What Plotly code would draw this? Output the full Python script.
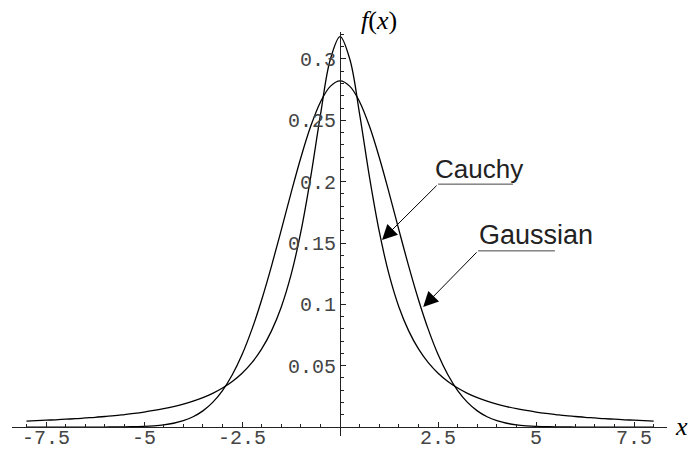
import plotly.graph_objects as go

# Sample points shared by both densities
x_vals = [-8.0, -7.75, -7.5, -7.25, -7.0, -6.75, -6.5, -6.25, -6.0, -5.75, -5.5, -5.25,
          -5.0, -4.75, -4.5, -4.25, -4.0, -3.75, -3.5, -3.25, -3.0, -2.75, -2.5, -2.25,
          -2.0, -1.75, -1.5, -1.25, -1.0, -0.75, -0.5, -0.25, 0.0, 0.25, 0.5, 0.75,
          1.0, 1.25, 1.5, 1.75, 2.0, 2.25, 2.5, 2.75, 3.0, 3.25, 3.5, 3.75,
          4.0, 4.25, 4.5, 4.75, 5.0, 5.25, 5.5, 5.75, 6.0, 6.25, 6.5, 6.75,
          7.0, 7.25, 7.5, 7.75, 8.0]

# Cauchy density (narrow peak, heavy tails)
cauchy_vals = [0.0049, 0.0052, 0.0056, 0.0059, 0.0064, 0.0068, 0.0074, 0.0079, 0.0086,
               0.0093, 0.0102, 0.0111, 0.0122, 0.0135, 0.0150, 0.0167, 0.0187, 0.0211,
               0.0240, 0.0275, 0.0318, 0.0372, 0.0439, 0.0525, 0.0637, 0.0784, 0.0979,
               0.1242, 0.1592, 0.2037, 0.2546, 0.2996, 0.3183, 0.2996, 0.2546, 0.2037,
               0.1592, 0.1242, 0.0979, 0.0784, 0.0637, 0.0525, 0.0439, 0.0372, 0.0318,
               0.0275, 0.0240, 0.0211, 0.0187, 0.0167, 0.0150, 0.0135, 0.0122, 0.0111,
               0.0102, 0.0093, 0.0086, 0.0079, 0.0074, 0.0068, 0.0064, 0.0059, 0.0056,
               0.0052, 0.0049]

# Gaussian density (broader peak, thin tails)
gauss_vals = [0.0, 0.0, 0.0, 0.0, 0.0, 0.0, 0.0, 0.0, 0.0, 0.0001, 0.0001, 0.0003,
              0.0005, 0.0010, 0.0018, 0.0031, 0.0052, 0.0084, 0.0132, 0.0201, 0.0297,
              0.0426, 0.0591, 0.0796, 0.1038, 0.1312, 0.1607, 0.1909, 0.2197, 0.2451,
              0.2650, 0.2777, 0.2821, 0.2777, 0.2650, 0.2451, 0.2197, 0.1909, 0.1607,
              0.1312, 0.1038, 0.0796, 0.0591, 0.0426, 0.0297, 0.0201, 0.0132, 0.0084,
              0.0052, 0.0031, 0.0018, 0.0010, 0.0005, 0.0003, 0.0001, 0.0001, 0.0, 0.0,
              0.0, 0.0, 0.0, 0.0, 0.0, 0.0, 0.0]

x_ticks = [-7.5, -5, -2.5, 2.5, 5, 7.5]
x_tick_text = ["-7.5", "-5", "-2.5", "2.5", "5", "7.5"]
y_ticks = [0.05, 0.1, 0.15, 0.2, 0.25, 0.3]
y_tick_text = ["0.05", "0.1", "0.15", "0.2", "0.25", "0.3"]

X_RANGE = [-8.37, 8.34]
Y_RANGE = [-0.0073, 0.322]

fig = go.Figure()
for name, vals in [("Cauchy", cauchy_vals), ("Gaussian", gauss_vals)]:
    fig.add_trace(go.Scatter(x=x_vals, y=vals, mode="lines", name=name,
                             line=dict(color="black", width=1.3, shape="spline"),
                             showlegend=False, hoverinfo="skip"))

tick_font = dict(family="Liberation Mono, Courier New, monospace", size=20, color="#444")

fig.update_layout(
    width=688, height=454,
    margin=dict(l=12, r=21, t=32, b=18, autoexpand=False),
    paper_bgcolor="white", plot_bgcolor="white",
    xaxis=dict(range=X_RANGE, anchor="free", automargin=False,
               position=(0 - Y_RANGE[0]) / (Y_RANGE[1] - Y_RANGE[0]),
               showline=True, linecolor="#222", linewidth=1,
               showgrid=False, zeroline=False,
               tickmode="array", tickvals=x_ticks, ticktext=x_tick_text,
               ticks="inside", ticklen=5, tickwidth=1, tickcolor="#222",
               ticklabelstandoff=-8,
               minor=dict(tickmode="linear", tick0=0, dtick=0.5, ticks="inside",
                          ticklen=3, tickwidth=1, tickcolor="#222", showgrid=False),
               tickfont=tick_font),
    yaxis=dict(range=Y_RANGE, anchor="free", automargin=False,
               position=(0 - X_RANGE[0]) / (X_RANGE[1] - X_RANGE[0]),
               showline=True, linecolor="#222", linewidth=1,
               showgrid=False, zeroline=False,
               tickmode="array", tickvals=y_ticks, ticktext=y_tick_text,
               ticks="inside", ticklen=5, tickwidth=1, tickcolor="#222",
               minor=dict(tickmode="linear", tick0=0, dtick=0.01, ticks="inside",
                          ticklen=3, tickwidth=1, tickcolor="#222", showgrid=False),
               tickfont=tick_font),
)

label_font = dict(family="Liberation Sans, Arial, sans-serif", size=26, color="#222")
axis_title_font = dict(family="Liberation Serif, Times New Roman, serif", size=26, color="black")

annotations = [
    # axis titles
    dict(x=0.5603, y=1.0297, xref="paper", yref="paper", text="<i>f</i>(<i>x</i>)",
         xanchor="center", yanchor="middle", showarrow=False, font=axis_title_font),
    dict(x=1.0214, y=0.0223, xref="paper", yref="paper", text="<i>x</i>",
         xanchor="center", yanchor="middle", showarrow=False, font=axis_title_font),
    # curve labels
    dict(x=2.37, y=0.2104, xref="x", yref="y", text="Cauchy", xanchor="left",
         yanchor="middle", showarrow=False, font=label_font),
    dict(x=3.49, y=0.1562, xref="x", yref="y", text="Gaussian", xanchor="left",
         yanchor="middle", showarrow=False, font=dict(label_font, size=27)),
    # leader arrows
    dict(x=1.07, y=0.1525, ax=2.50, ay=0.198, xref="x", yref="y", axref="x", ayref="y",
         text="", showarrow=True, arrowhead=2, arrowsize=3, arrowwidth=1,
         arrowcolor="black"),
    dict(x=2.12, y=0.0979, ax=3.52, ay=0.1436, xref="x", yref="y", axref="x", ayref="y",
         text="", showarrow=True, arrowhead=2, arrowsize=3, arrowwidth=1,
         arrowcolor="black"),
]
fig.update_layout(annotations=annotations)

# underlines beneath the curve labels
fig.add_shape(type="line", x0=2.50, x1=4.41, y0=0.198, y1=0.198, xref="x", yref="y",
              line=dict(color="#444", width=1))
fig.add_shape(type="line", x0=3.52, x1=5.48, y0=0.1436, y1=0.1436, xref="x", yref="y",
              line=dict(color="#444", width=1))

fig.write_html("out.html")
